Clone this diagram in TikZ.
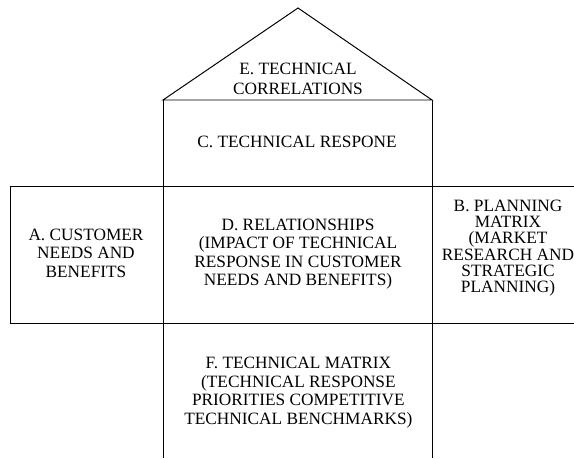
\documentclass[tikz,border=0pt]{standalone}
\usepackage{fontspec}
\setmainfont{Liberation Serif}
\newcommand{\hqfont}[1]{\fontsize{12.3}{#1}\selectfont}

\begin{document}
\begin{tikzpicture}[line width=0.7pt,
  hqtext/.style={align=center,inner sep=0pt,font=\hqfont{13.2}}]
  \useasboundingbox(0,0)rectangle(14.35,11.45);
  % roof
  \draw(4.075,8.95)--(7.45,11.25)--(10.8,8.95)--cycle;
  % walls of the middle column
  \draw(4.075,8.95)--(4.075,0)(10.8,8.95)--(10.8,0);
  % left and right rooms
  \draw(14.35,6.8)--(0.25,6.8)--(0.25,3.375)--(14.35,3.375);
  \node[hqtext,font=\hqfont{14.2}](correl) at (7.45,9.49){E. TECHNICAL\\CORRELATIONS};
  \node[hqtext](techresp) at (7.425,7.9){C. TECHNICAL RESPONE};
  \node[hqtext](custneeds) at (2.15,5.125){A. CUSTOMER\\NEEDS AND\\BENEFITS};
  \node[hqtext](relations) at (7.45,5.1){D. RELATIONSHIPS\\(IMPACT OF TECHNICAL\\RESPONSE IN CUSTOMER\\NEEDS AND BENEFITS)};
  \node[hqtext,font=\hqfont{11.6}](planning) at (12.7,5.25){B. PLANNING\\MATRIX\\(MARKET\\RESEARCH AND\\STRATEGIC\\PLANNING)};
  \node[hqtext](techmatrix) at (7.46,1.64){F. TECHNICAL MATRIX\\(TECHNICAL RESPONSE\\PRIORITIES COMPETITIVE\\TECHNICAL BENCHMARKS)};
\end{tikzpicture}
\end{document}
